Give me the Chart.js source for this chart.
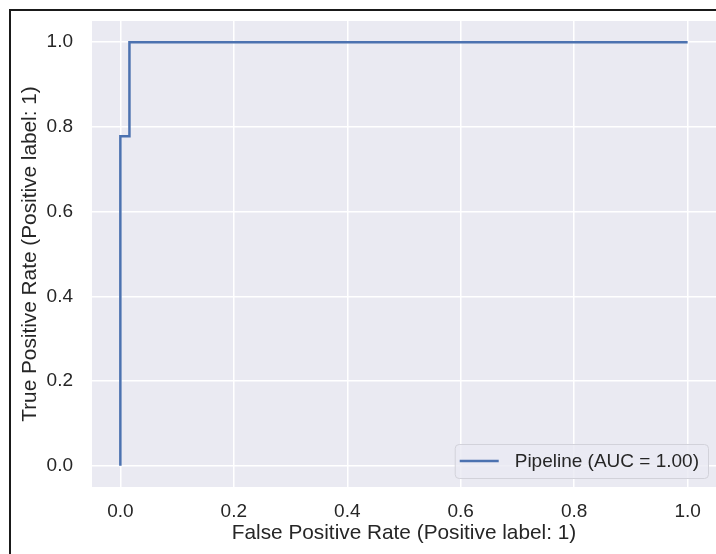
<!DOCTYPE html>
<html>
<head>
<meta charset="utf-8">
<script src="https://cdn.jsdelivr.net/npm/chart.js@4"></script>
<style>
  html, body { margin: 0; padding: 0; background: #fff; }
  #wrap { position: relative; width: 716px; height: 554px; overflow: hidden; }
  #frame { position: absolute; left: 9px; top: 9px; width: 800px; height: 600px;
           border-top: 2px solid #1a1a1a; border-left: 2px solid #1a1a1a; pointer-events: none; }
</style>
</head>
<body>
<div id="wrap">
  <canvas id="chart" width="716" height="554"></canvas>
  <div id="frame"></div>
</div>
<script>
// ROC curve points
const fprValues = [0.0, 0.0, 0.016, 0.016, 1.0];
const tprValues = [0.0, 0.778, 0.778, 1.0, 1.0];
const seriesLabel = 'Pipeline (AUC = 1.00)';
const xTicks = [0.0, 0.2, 0.4, 0.6, 0.8, 1.0];
const yTicks = [0.0, 0.2, 0.4, 0.6, 0.8, 1.0];

const textColor = '#262626';
const fontFamily = '"Liberation Sans", Arial, sans-serif';

// grey plot background like seaborn darkgrid
const plotBackground = {
    id: 'plotBackground',
    beforeDraw(chart) {
        const { ctx, chartArea } = chart;
        ctx.save();
        ctx.fillStyle = '#eaeaf2';
        ctx.fillRect(chartArea.left, chartArea.top, chartArea.right - chartArea.left, chartArea.bottom - chartArea.top);
        ctx.restore();
    }
};

// legend box drawn inside the plot, bottom right
const innerLegend = {
    id: 'innerLegend',
    afterDraw(chart) {
        const { ctx, chartArea } = chart;
        const ds = chart.data.datasets[0];
        ctx.save();
        ctx.font = '19px ' + fontFamily;
        const textW = ctx.measureText(ds.label).width;
        const h = 34;
        const w = 60 + textW + 9;
        const right = chartArea.right - 8;
        const bottom = chartArea.bottom - 9;
        const left = right - w;
        const top = bottom - h;
        ctx.beginPath();
        ctx.roundRect(left + 0.5, top + 0.5, w, h, 4);
        ctx.fillStyle = 'rgba(234,234,242,0.8)';
        ctx.fill();
        ctx.strokeStyle = '#d2d2da';
        ctx.lineWidth = 1;
        ctx.stroke();
        const midY = top + h / 2;
        ctx.beginPath();
        ctx.moveTo(left + 5, midY);
        ctx.lineTo(left + 44, midY);
        ctx.strokeStyle = ds.borderColor;
        ctx.lineWidth = 2.5;
        ctx.stroke();
        ctx.fillStyle = textColor;
        ctx.textBaseline = 'middle';
        ctx.fillText(ds.label, left + 60, midY + 1);
        ctx.restore();
    }
};

const ctx = document.getElementById('chart').getContext('2d');
new Chart(ctx, {
    type: 'line',
    data: {
        datasets: [{
            label: seriesLabel,
            data: fprValues.map((x, i) => ({ x: x, y: tprValues[i] })),
            borderColor: '#4c72b0',
            borderWidth: 2.5,
            pointRadius: 0,
            tension: 0,
            fill: false
        }]
    },
    options: {
        responsive: false,
        animation: false,
        layout: { padding: { top: 21, left: 0, right: 0, bottom: 0 } },
        plugins: {
            legend: { display: false },
            tooltip: { enabled: false }
        },
        scales: {
            x: {
                type: 'linear',
                min: -0.05,
                max: 1.05,
                border: { display: false },
                grid: { color: '#ffffff', lineWidth: 1.5, drawTicks: false },
                afterBuildTicks: scale => { scale.ticks = xTicks.map(v => ({ value: v })); },
                afterFit: scale => {
                    scale.height = 67;
                    scale.paddingLeft = 0;
                    scale.paddingRight = 0;
                },
                ticks: {
                    padding: 13,
                    color: textColor,
                    font: { family: fontFamily, size: 19 },
                    callback: v => v.toFixed(1)
                },
                title: {
                    display: true,
                    text: 'False Positive Rate (Positive label: 1)',
                    color: textColor,
                    font: { family: fontFamily, size: 20.8 },
                    padding: { top: 0, bottom: 8 }
                }
            },
            y: {
                type: 'linear',
                min: -0.05,
                max: 1.05,
                border: { display: false },
                grid: { color: '#ffffff', lineWidth: 1.5, drawTicks: false },
                afterBuildTicks: scale => { scale.ticks = yTicks.map(v => ({ value: v })); },
                afterFit: scale => {
                    scale.width = 92;
                    scale.paddingTop = 0;
                    scale.paddingBottom = 0;
                },
                ticks: {
                    padding: 19,
                    color: textColor,
                    font: { family: fontFamily, size: 19 },
                    callback: v => v.toFixed(1)
                },
                title: {
                    display: true,
                    text: 'True Positive Rate (Positive label: 1)',
                    color: textColor,
                    font: { family: fontFamily, size: 20.8 },
                    padding: { top: 17.5, bottom: 0 }
                }
            }
        }
    },
    plugins: [plotBackground, innerLegend]
});
</script>
</body>
</html>
